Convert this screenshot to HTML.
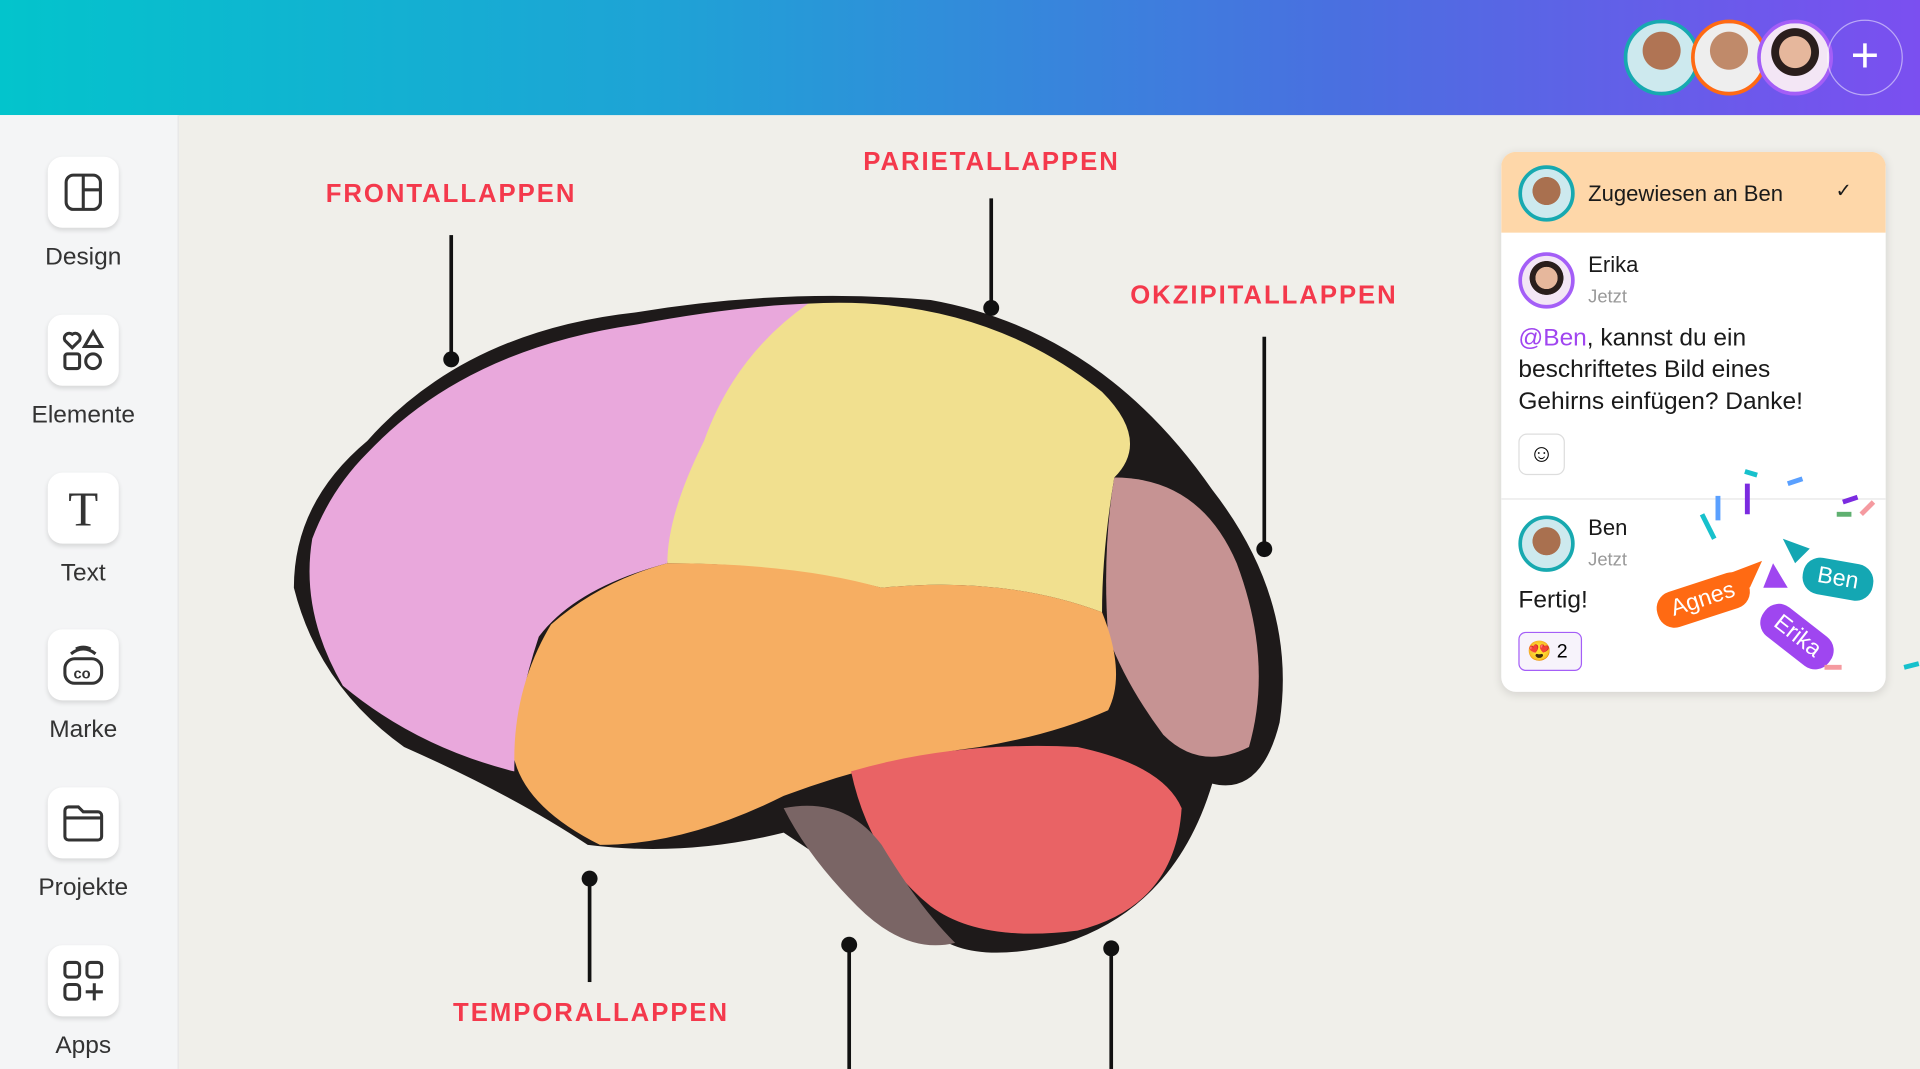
<!DOCTYPE html>
<html><head><meta charset="utf-8"><style>
html,body{margin:0;padding:0;width:1920px;height:1069px;overflow:hidden;background:#f0efea}
#w{position:absolute;left:0;top:0;width:1568px;height:873px;transform:scale(1.22449);transform-origin:0 0;font-family:"Liberation Sans",sans-serif;background:#f0efea}
.hdr{position:absolute;left:0;top:0;width:1568px;height:94px;background:linear-gradient(90deg,#03c4cc 0%,#1fa2d6 35%,#4a6fe0 70%,#7b4ff0 100%)}
.side{position:absolute;left:0;top:94px;width:145px;height:779px;background:#f4f5f6;border-right:1px solid #e6e6e6}
.it{position:absolute;left:0;width:136px;text-align:center;color:#333;font-size:20px}
.ic{width:58px;height:58px;margin:0 auto 13px;background:#fff;border-radius:12px;box-shadow:0 2px 4px rgba(0,0,0,.12);display:flex;align-items:center;justify-content:center}
.lbl{position:absolute;color:#f4394c;font-weight:bold;font-size:21px;letter-spacing:1.6px}
.ln{position:absolute;width:3px;background:#111}
.dot{position:absolute;width:13px;height:13px;border-radius:50%;background:#111}
.av{position:absolute;border-radius:50%;box-sizing:border-box}
.panel{position:absolute;left:1226px;top:124px;width:314px;height:441px;background:#fff;border-radius:12px;box-shadow:0 2px 8px rgba(0,0,0,.12);overflow:hidden}
.t{position:absolute;color:#1a1a1a;white-space:nowrap}
.tag{position:absolute;color:#fff;font-size:19px;padding:4px 12px;border-radius:14px;white-space:nowrap}
</style></head><body><div id="w">
<div class="hdr"></div>
<div class="av" style="left:1326px;top:16px;width:62px;height:62px;border:3px solid #17a9b0;background:radial-gradient(circle at 50% 40%,#b07454 0 35%,#cde9ee 36%)"></div>
<div class="av" style="left:1381px;top:16px;width:62px;height:62px;border:3px solid #ff6a13;background:radial-gradient(circle at 50% 40%,#c08a6a 0 35%,#eee 36%)"></div>
<div class="av" style="left:1435px;top:16px;width:62px;height:62px;border:3px solid #a45ef7;background:radial-gradient(circle at 50% 42%,#e6b79c 0 30%,#2a1e1c 31% 45%,#f3e6f5 46%)"></div>
<div class="av" style="left:1492px;top:16px;width:62px;height:62px;border:1.5px solid rgba(255,255,255,.5);color:#fff;font-size:40px;text-align:center;line-height:58px;font-weight:300">+</div>

<div class="side">
<div class="it" style="top:34px"><div class="ic"><svg width="34" height="34" fill="none" stroke="#333" stroke-width="2.5"><rect x="3" y="3" width="28" height="28" rx="6"/><path d="M17 3v28M17 15h14"/></svg></div>Design</div>
<div class="it" style="top:163px"><div class="ic"><svg width="36" height="36" fill="none" stroke="#333" stroke-width="2.5"><path d="M9 16l-6-6a4 4 0 016-5 4 4 0 016 5z"/><path d="M26 3l7 12H19z"/><rect x="3" y="21" width="12" height="12" rx="2"/><circle cx="26" cy="27" r="6"/></svg></div>Elemente</div>
<div class="it" style="top:292px"><div class="ic"><span style="font-family:'Liberation Serif',serif;font-size:40px;color:#333">T</span></div>Text</div>
<div class="it" style="top:420px"><div class="ic"><svg width="36" height="36" fill="none" stroke="#333" stroke-width="2.5"><rect x="3" y="13" width="30" height="20" rx="8"/><path d="M8 9q10-8 20 0M12 5q6-3 12 0"/><text x="10" y="29" font-size="12" font-weight="bold" fill="#333" stroke="none" font-family="Liberation Sans">co</text></svg></div>Marke</div>
<div class="it" style="top:549px"><div class="ic"><svg width="36" height="36" fill="none" stroke="#333" stroke-width="2.5"><path d="M3 8a3 3 0 013-3h8l4 4h12a3 3 0 013 3v17a3 3 0 01-3 3H6a3 3 0 01-3-3z M3 14h30"/></svg></div>Projekte</div>
<div class="it" style="top:678px"><div class="ic"><svg width="36" height="36" fill="none" stroke="#333" stroke-width="2.5"><rect x="3" y="3" width="12" height="12" rx="3"/><rect x="21" y="3" width="12" height="12" rx="3"/><rect x="3" y="21" width="12" height="12" rx="3"/><path d="M27 20v14M20 27h14"/></svg></div>Apps</div>
</div>

<svg style="position:absolute;left:0;top:0" width="1568" height="873">
<path d="M300 360 Q380 270 520 255 Q640 235 760 245 Q900 270 990 400 Q1060 490 1045 590 Q1030 650 990 640 Q960 740 870 770 Q790 790 760 760 Q700 720 640 680 Q560 700 480 690 Q420 650 330 610 Q260 560 240 480 Q240 410 300 360Z" fill="#1e1a1a"/>
<path d="M300 370 Q380 285 520 265 Q600 250 660 248 Q600 320 570 400 Q545 440 545 460 Q470 480 440 520 Q420 580 420 630 Q340 610 280 560 Q245 500 255 440 Q270 400 300 370Z" fill="#e9a8dc"/>
<path d="M660 248 Q800 240 900 320 Q940 360 910 390 Q900 450 900 500 Q820 470 720 480 Q640 460 545 460 Q545 420 575 360 Q600 290 660 248Z" fill="#f1e08f"/>
<path d="M910 390 Q980 390 1010 460 Q1040 540 1020 610 Q980 630 950 600 Q920 560 905 520 Q900 450 910 390Z" fill="#c69393"/>
<path d="M545 460 Q650 460 720 480 Q820 470 900 500 Q920 550 905 580 Q860 600 800 610 Q720 620 640 650 Q560 690 490 690 Q430 660 420 620 Q420 560 450 510 Q490 475 545 460Z" fill="#f6ae62"/>
<path d="M695 630 Q780 605 880 610 Q950 625 965 660 Q960 740 880 760 Q800 770 760 740 Q710 700 695 630Z" fill="#e96365"/>
<path d="M640 660 Q690 650 720 690 Q750 740 780 770 Q740 780 700 740 Q660 700 640 660Z" fill="#7a6565"/>
</svg>

<div class="lbl" style="left:266px;top:147px">FRONTALLAPPEN</div>
<div class="ln" style="left:367px;top:192px;height:100px"></div><div class="dot" style="left:362px;top:287px"></div>
<div class="lbl" style="left:705px;top:121px">PARIETALLAPPEN</div>
<div class="ln" style="left:808px;top:162px;height:88px"></div><div class="dot" style="left:803px;top:245px"></div>
<div class="lbl" style="left:923px;top:230px">OKZIPITALLAPPEN</div>
<div class="ln" style="left:1031px;top:275px;height:172px"></div><div class="dot" style="left:1026px;top:442px"></div>
<div class="lbl" style="left:370px;top:816px">TEMPORALLAPPEN</div>
<div class="ln" style="left:480px;top:717px;height:85px"></div><div class="dot" style="left:475px;top:711px"></div>
<div class="ln" style="left:692px;top:772px;height:101px"></div><div class="dot" style="left:687px;top:765px"></div>
<div class="ln" style="left:906px;top:775px;height:98px"></div><div class="dot" style="left:901px;top:768px"></div>

<div class="panel">
<div style="position:absolute;left:0;top:0;width:314px;height:66px;background:#fed7a9"></div>
<div class="av" style="left:14px;top:11px;width:46px;height:46px;border:3px solid #17a9b0;background:radial-gradient(circle at 50% 45%,#a9704f 0 38%,#cde9ee 39%)"></div>
<div class="t" style="left:71px;top:24px;font-size:18px">Zugewiesen an Ben</div>
<div class="t" style="left:273px;top:22px;font-size:16px">✓</div>
<div class="av" style="left:14px;top:82px;width:46px;height:46px;border:3px solid #a45ef7;background:radial-gradient(circle at 50% 45%,#e6b79c 0 30%,#2a1e1c 31% 46%,#f3e6f5 47%)"></div>
<div class="t" style="left:71px;top:82px;font-size:18px">Erika</div>
<div class="t" style="left:71px;top:110px;font-size:15px;color:#999">Jetzt</div>
<div class="t" style="left:14px;top:139px;font-size:20px;line-height:26px"><span style="color:#a045f0">@Ben</span>, kannst du ein<br>beschriftetes Bild eines<br>Gehirns einfügen? Danke!</div>
<div style="position:absolute;left:14px;top:230px;width:36px;height:32px;border:1px solid #ddd;border-radius:7px;text-align:center;font-size:20px;line-height:32px">☺</div>
<div style="position:absolute;left:0;top:283px;width:314px;height:1px;background:#e6e6e6"></div>
<div class="av" style="left:14px;top:297px;width:46px;height:46px;border:3px solid #17a9b0;background:radial-gradient(circle at 50% 45%,#a9704f 0 38%,#cde9ee 39%)"></div>
<div class="t" style="left:71px;top:297px;font-size:18px">Ben</div>
<div class="t" style="left:71px;top:325px;font-size:15px;color:#999">Jetzt</div>
<div class="t" style="left:14px;top:355px;font-size:20px">Fertig!</div>
<div style="position:absolute;left:14px;top:392px;width:52px;height:32px;border:1px solid #a45ef7;border-radius:6px;background:#f7f3fb;font-size:16px;line-height:32px;padding-left:6px;box-sizing:border-box">😍 2</div>
</div>
<div class="tag" style="left:1352px;top:475px;background:#ff6a13;transform:rotate(-18deg)">Agnes</div>
<div class="tag" style="left:1472px;top:458px;background:#14a7b3;transform:rotate(10deg)">Ben</div>
<div class="tag" style="left:1434px;top:505px;background:#9f46f0;transform:rotate(38deg)">Erika</div>
<svg style="position:absolute;left:1380px;top:380px" width="188" height="180">
<path d="M33 88l26-10-10 22z" fill="#ff6a13"/><path d="M68 80l12 20h-20z" fill="#9f46f0"/><path d="M76 60l22 8-12 12z" fill="#14a7b3"/>
<g stroke-width="4"><path d="M10 40l10 20" stroke="#17c1cc"/><path d="M23 25v20" stroke="#5aa0ff"/><path d="M47 15v25" stroke="#7b2be0"/><path d="M80 15l12-4" stroke="#5aa0ff"/><path d="M125 30l12-4" stroke="#7b2be0"/><path d="M120 40l12 0" stroke="#5fb070"/><path d="M140 40l10-10" stroke="#f59aa0"/><path d="M110 165l14 0" stroke="#f59aa0"/><path d="M175 165l12-3" stroke="#17c1cc"/><path d="M45 5l10 3" stroke="#17c1cc"/></g>
</svg>
</div></body></html>
